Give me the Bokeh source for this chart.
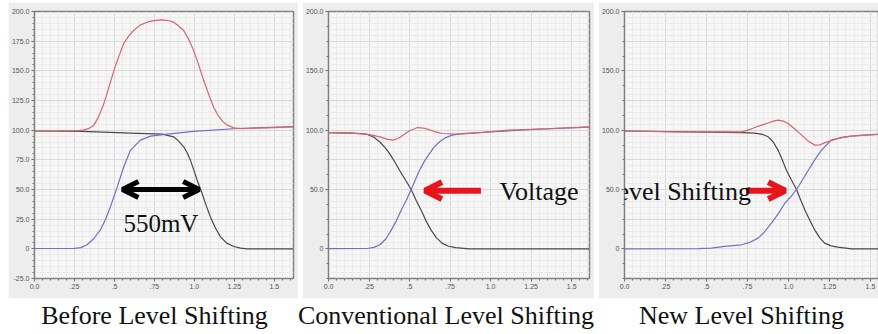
import numpy as np
from bokeh.plotting import figure
from bokeh.models import Range1d, FixedTicker, Label, Arrow, OpenHead, Spacer
from bokeh.layouts import row, column
from bokeh.embed import file_html
from bokeh.resources import INLINE

# ---------------- data ----------------
X_TICKS = [0, 0.25, 0.5, 0.75, 1.0, 1.25, 1.5]
X_TICK_LABELS = ["0.0", ".25", ".5", ".75", "1.0", "1.25", "1.5"]
Y_TICKS_A = [-25, 0, 25, 50, 75, 100, 125, 150, 175, 200]
Y_TICK_LABELS_A = ["-25.0", "0", "25.0", "50.0", "75.0", "100.0", "125.0", "150.0", "175.0", "200.0"]
Y_TICKS_B = [0, 50, 100, 150, 200]
Y_TICK_LABELS_B = ["0", "50.0", "100.0", "150.0", "200.0"]

CAPTIONS = ["Before Level Shifting", "Conventional Level Shifting", "New Level Shifting"]
Y_AXIS_TITLE = "YG (E-6)"
X_AXIS_TITLE = "vdc ()"

# Panel 1 : before level shifting
p1_red_x = [0.00, 0.15, 0.28, 0.31, 0.34, 0.37, 0.40, 0.433, 0.465, 0.496, 0.527, 0.558, 0.59, 0.62,
            0.66, 0.704, 0.745, 0.7875, 0.83, 0.87, 0.90, 0.933, 0.965, 0.996, 1.027, 1.058, 1.09,
            1.12, 1.15, 1.18, 1.21, 1.246, 1.29, 1.33, 1.45, 1.62]
p1_red_y = [99.3, 99.4, 99.6, 100.3, 101.5, 104, 111, 122, 136, 150, 162, 173, 179.5, 184,
            188.5, 191, 192.3, 193, 192.6, 191, 188, 184, 176.5, 167, 155, 142, 130,
            119.6, 112, 107, 104, 102, 101.3, 101.4, 102, 102.8]
p1_black_x = [0.0, 0.3, 0.6, 0.8, 0.87, 0.90, 0.933, 0.955, 0.975, 0.996, 1.017, 1.048, 1.075,
              1.10, 1.13, 1.1625, 1.20, 1.246, 1.29, 1.33, 1.62]
p1_black_y = [99.3, 99.0, 97.5, 96.6, 94.4, 91, 86, 81, 74.8, 66.5, 58, 46.8, 36,
              27, 18, 10.3, 5, 2, 0.6, 0, 0]
p1_blue_x = [0.0, 0.25, 0.29, 0.329, 0.37, 0.4125, 0.445, 0.475, 0.517, 0.558, 0.6, 0.6625,
             0.725, 0.83, 0.996, 1.267, 1.62]
p1_blue_y = [0.3, 0.4, 1.0, 3.4, 8.5, 16, 25, 35.5, 52, 69, 83, 91.6,
             95, 96.6, 99, 101.4, 103]

# Panel 2 : conventional level shifting
p2_red_x = [0.0, 0.10, 0.215, 0.26, 0.317, 0.36, 0.398, 0.43, 0.459, 0.50, 0.55, 0.585, 0.62,
            0.66, 0.70, 0.785, 0.95, 1.11, 1.35, 1.61]
p2_red_y = [98, 97.8, 96.8, 96, 94.4, 92.5, 91.6, 93, 95.8, 99.5, 102.2, 101.8, 100.5,
            98.5, 97.2, 96.6, 98.2, 100, 101.2, 102.8]
p2_black_x = [0.0, 0.15, 0.236, 0.28, 0.317, 0.348, 0.378, 0.41, 0.439, 0.475, 0.51, 0.54, 0.571,
              0.60, 0.632, 0.665, 0.70, 0.74, 0.785, 0.866, 1.61]
p2_black_y = [98, 97.5, 96.6, 94, 90, 85.5, 80, 73, 66, 58, 50, 41, 32.8,
              24, 16, 9.5, 4.8, 2.2, 1, 0, 0]
p2_blue_x = [0.0, 0.24, 0.28, 0.317, 0.355, 0.388, 0.42, 0.449, 0.48, 0.51, 0.535, 0.561, 0.59,
             0.622, 0.65, 0.683, 0.72, 0.764, 0.80, 1.0, 1.3, 1.61]
p2_blue_y = [0.2, 0.3, 1.2, 3.4, 8.5, 16, 24, 32.8, 41, 50, 58, 66, 73.5,
             80, 85.5, 90, 93.5, 95.8, 96.6, 98.6, 100.8, 102.6]

# Panel 3 : new level shifting
p3_red_x = [0.0, 0.31, 0.41, 0.713, 0.755, 0.795, 0.835, 0.876, 0.907, 0.937, 0.968, 0.998, 1.04,
            1.08, 1.12, 1.16, 1.19, 1.22, 1.26, 1.30, 1.384, 1.47, 1.555]
p3_red_y = [99.3, 98.5, 98.6, 98.6, 100, 102.2, 104.2, 106, 107.6, 108.4, 107.6, 105.6, 100.8,
            95.8, 90.8, 87.4, 87.6, 89.3, 91.2, 93, 95, 95.9, 96.6]
p3_black_x = [0.0, 0.41, 0.713, 0.795, 0.84, 0.876, 0.907, 0.937, 0.962, 0.988, 1.018, 1.049, 1.075,
              1.10, 1.13, 1.16, 1.19, 1.22, 1.26, 1.30, 1.384, 1.555]
p3_black_y = [99.3, 98.6, 98, 97.5, 96.5, 94.4, 90, 83, 75, 66, 58, 50, 41,
              32.8, 24, 16, 9.5, 4.8, 2.5, 1.4, 0, 0]
p3_blue_x = [0.0, 0.45, 0.53, 0.61, 0.713, 0.765, 0.815, 0.855, 0.896, 0.937, 0.978, 1.015, 1.049,
             1.085, 1.12, 1.16, 1.20, 1.26, 1.34, 1.45, 1.555]
p3_blue_y = [0.0, 0.2, 0.6, 2, 3.4, 5.5, 9, 14.5, 21.6, 29.5, 38.4, 44, 50,
             58, 66, 75, 83, 91.6, 94.4, 95.8, 96.6]

# ---------------- styling ----------------
RED = "#d8666f"
BLUE = "#7070cc"
BLACK = "#4a4a4a"
ARROW_RED = "#e8141c"
OUTER = "#ededed"
INNER = "#f6f6f6"
SERIF = "Liberation Serif"


def make_panel(frame_w, border_l, border_r, x_end, yticks, ylabels, minor_y, curves):
    p = figure(frame_width=frame_w, frame_height=267, x_range=Range1d(0, x_end),
               y_range=Range1d(-25, 200), output_backend="svg", toolbar_location=None,
               min_border_left=border_l, min_border_right=border_r,
               min_border_top=9, min_border_bottom=20)
    p.title.visible = False
    p.background_fill_color = INNER
    p.border_fill_color = OUTER
    p.outline_line_color = "#808080"
    p.outline_line_width = 1.5
    px_per_unit = frame_w / x_end

    xminor = list(np.round(np.arange(0, 1.66, 0.05), 3))
    p.xaxis.ticker = FixedTicker(ticks=X_TICKS, minor_ticks=xminor)
    p.xaxis.major_label_overrides = dict(zip(X_TICKS, X_TICK_LABELS))
    p.yaxis.ticker = FixedTicker(ticks=yticks, minor_ticks=list(np.arange(-25, 201, minor_y)))
    p.yaxis.major_label_overrides = dict(zip(yticks, ylabels))
    for ax in (p.xaxis, p.yaxis):
        ax.axis_line_color = "#808080"
        ax.major_tick_line_color = "#666666"
        ax.minor_tick_line_color = "#777777"
        ax.major_tick_out = 3
        ax.major_tick_in = 0
        ax.minor_tick_out = 2
        ax.minor_tick_in = 0
        ax.major_label_text_font = "Liberation Sans"
        ax.major_label_text_font_size = "7px"
        ax.major_label_text_color = "#555555"
        ax.major_label_standoff = 2

    p.xgrid.ticker = FixedTicker(ticks=X_TICKS, minor_ticks=xminor)
    p.ygrid.ticker = FixedTicker(ticks=Y_TICKS_A, minor_ticks=list(np.arange(-25, 201, 5)))
    p.grid.grid_line_color = "#d9d9d9"
    p.grid.grid_line_width = 1
    p.grid.minor_grid_line_color = "#ebebeb"

    for xs, ys, col in curves:
        p.line(xs, ys, line_color=col, line_width=1.2)

    p.add_layout(Label(x=-21 / px_per_unit, y=87, text=Y_AXIS_TITLE, angle=np.pi / 2,
                       text_align="center", text_baseline="middle",
                       text_font="Liberation Sans", text_font_size="6px", text_color="#555555"))
    p.add_layout(Label(x=(129.5) / px_per_unit, y=-38.5, text=X_AXIS_TITLE,
                       text_align="center", text_baseline="middle",
                       text_font="Liberation Sans", text_font_size="6px", text_color="#555555"))
    return p


p1 = make_panel(259, 26, 5, 1.62, Y_TICKS_A, Y_TICK_LABELS_A, 5,
                [(p1_black_x, p1_black_y, BLACK), (p1_blue_x, p1_blue_y, BLUE), (p1_red_x, p1_red_y, RED)])
p2 = make_panel(261, 26, 5, 1.61, Y_TICKS_B, Y_TICK_LABELS_B, 12.5,
                [(p2_black_x, p2_black_y, BLACK), (p2_blue_x, p2_blue_y, BLUE), (p2_red_x, p2_red_y, RED)])
p3 = make_panel(255, 25, 0, 1.555, Y_TICKS_B, Y_TICK_LABELS_B, 12.5,
                [(p3_black_x, p3_black_y, BLACK), (p3_blue_x, p3_blue_y, BLUE), (p3_red_x, p3_red_y, RED)])

# annotations
p1.add_layout(Arrow(x_start=0.55, y_start=50, x_end=1.03, y_end=50, line_width=5, line_color="black",
                    start=OpenHead(size=16, line_width=5, line_color="black"),
                    end=OpenHead(size=16, line_width=5, line_color="black")))
p1.add_layout(Label(x=0.556, y=21.3, text="550mV", text_font=SERIF, text_font_size="25px",
                    text_color="#111111", text_baseline="middle"))

p2.add_layout(Arrow(x_start=0.94, y_start=49, x_end=0.595, y_end=49, line_width=6, line_color=ARROW_RED,
                    end=OpenHead(size=17, line_width=6, line_color=ARROW_RED)))
p3.add_layout(Arrow(x_start=0.74, y_start=49, x_end=0.98, y_end=49, line_width=6, line_color=ARROW_RED,
                    end=OpenHead(size=17, line_width=6, line_color=ARROW_RED)))

# the phrase runs across panels 2 and 3: its words are split so each sits whole in one panel
p2.add_layout(Label(x=1.055, y=48.3, text="Voltage", text_font=SERIF, text_font_size="26px",
                    text_color="#111111", text_baseline="middle"))
p3.add_layout(Label(x=-0.14, y=48.3, text="Level Shifting", text_font=SERIF, text_font_size="26px",
                    text_color="#111111", text_baseline="middle"))

cap = figure(width=878, height=36, x_range=Range1d(0, 878), y_range=Range1d(0, 36),
             output_backend="svg", toolbar_location=None, min_border=0,
             x_axis_location=None, y_axis_location=None)
cap.title.visible = False
cap.grid.visible = False
cap.outline_line_color = None
cap.background_fill_color = "white"
cap.border_fill_color = "white"
for txt, cx in zip(CAPTIONS, [154, 445.5, 741]):
    cap.add_layout(Label(x=cx, y=19, text=txt, text_align="center", text_baseline="middle",
                         text_font=SERIF, text_font_size="26px", text_color="#111111"))

layout = column(Spacer(height=2),
                row(Spacer(width=4, height=10), p1, p2, p3, spacing=4),
                cap)
open("out.html", "w").write(file_html(layout, INLINE))
